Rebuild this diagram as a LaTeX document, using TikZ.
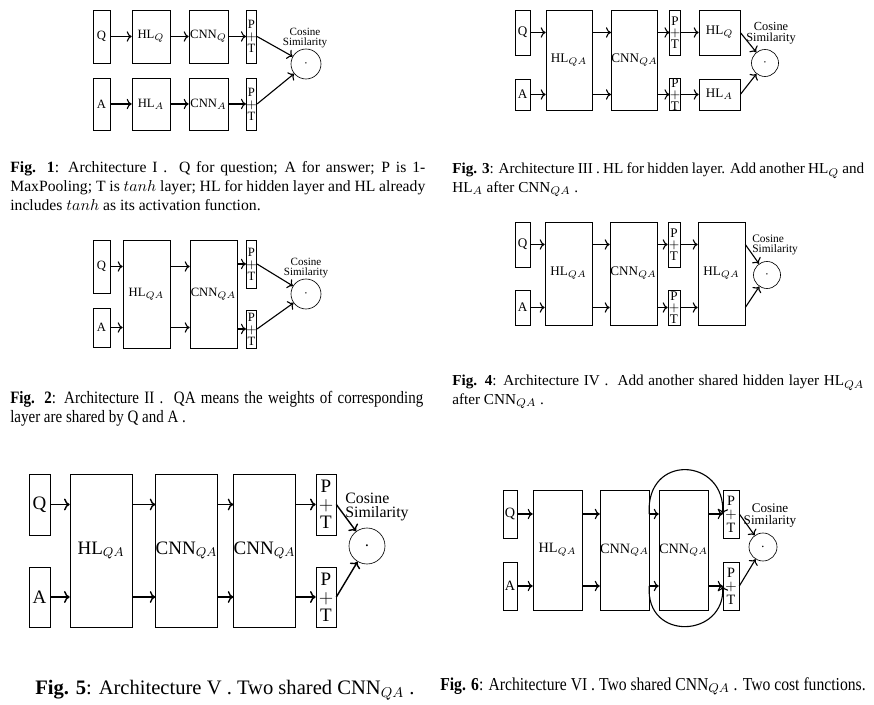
\documentclass[tikz,border=0pt]{standalone}
\usepackage{fontspec}
\setmainfont{Liberation Serif}
\newfontfamily\narrowserif[FakeStretch=0.86]{Liberation Serif}
\usetikzlibrary{arrows.meta}
\def\px{0.0222cm}

\begin{document}
\begin{tikzpicture}[
  x=\px, y=-\px,
  blk/.style 2 args={rectangle, draw, line width=0.4pt, inner sep=0pt, align=center, minimum width=#1*\px, minimum height=#2*\px},
  cosim/.style={circle, draw, line width=0.4pt, inner sep=0pt, minimum size=2*#1*\px},
  cslabel/.style={inner sep=0pt, align=center},
  arr/.style={->, line width=0.7pt},
  figcap/.style={anchor=base west, inner sep=0pt, align=justify}
]
\useasboundingbox (0,0) rectangle (874,705);

\begin{scope}[font=\fontsize{8}{7.6}\selectfont]
\node[blk={17}{53}] (q1) at (101.5,36.5) {Q};
\node[blk={38}{53}] (hlq1) at (151,36.5) {HL$_Q$};
\node[blk={39}{53}] (cnnq1) at (208.5,36.5) {CNN$_Q$};
\node[blk={9}{53}] (pta1) at (251.5,36.5) {P\\$+$\\T};
\node[blk={17}{52}] (a1) at (101.5,104) {A};
\node[blk={38}{52}] (hla1) at (151,104) {HL$_A$};
\node[blk={39}{52}] (cnna1) at (208.5,104) {CNN$_A$};
\node[blk={9}{52}] (ptb1) at (251.5,104) {P\\$+$\\T};
\node[cosim=15] (cs1) at (306,64) {$\cdot$};
\node[cslabel, font=\fontsize{7}{6.8}\selectfont] (lab1) at (305,38) {Cosine\\Similarity};
\draw[arr] (q1) -- (hlq1);
\draw[arr] (hlq1) -- (cnnq1);
\draw[arr] (cnnq1) -- (pta1);
\draw[arr] (a1) -- (hla1);
\draw[arr] (hla1) -- (cnna1);
\draw[arr] (cnna1) -- (ptb1);
\draw[arr] (pta1.east) -- (cs1);
\draw[arr] (ptb1.east) -- (cs1);
\end{scope}

\begin{scope}[font=\fontsize{8}{7.6}\selectfont]
\node[blk={17}{53}] (q2) at (101.5,266.5) {Q};
\node[blk={17}{39}] (a2) at (101.5,327.5) {A};
\node[blk={47}{108}] (hl2) at (146.5,294) {HL$_{QA}$};
\node[blk={47}{108}] (cnn2) at (213.5,294) {CNN$_{QA}$};
\node[blk={9}{48}] (pta2) at (251.5,264) {P\\$+$\\T};
\node[blk={9}{38}] (ptb2) at (251.5,329) {P\\$+$\\T};
\node[cosim=15] (cs2) at (306,294) {$\cdot$};
\node[cslabel, font=\fontsize{7}{6.8}\selectfont] (lab2) at (306,268) {Cosine\\Similarity};
\draw[arr] (q2) -- (q2 -| hl2.west);
\draw[arr] (a2) -- (a2 -| hl2.west);
\draw[arr] (hl2.east |- q2) -- (cnn2.west |- q2);
\draw[arr] (hl2.east |- a2) -- (cnn2.west |- a2);
\draw[arr] (cnn2.east |- pta2) -- (pta2);
\draw[arr] (cnn2.east |- ptb2) -- (ptb2);
\draw[arr] (pta2.east) -- (cs2);
\draw[arr] (ptb2.east) -- (cs2);
\end{scope}

\begin{scope}[font=\fontsize{8.3}{7.2}\selectfont]
\node[blk={15}{45}] (q3) at (522.5,32.5) {Q};
\node[blk={15}{31}] (a3) at (522.5,94.5) {A};
\node[blk={46}{100}] (hl3) at (569,60) {HL$_{QA}$};
\node[blk={45}{100}] (cnn3) at (634.5,60) {CNN$_{QA}$};
\node[blk={10}{45}] (pta3) at (675,32.5) {P\\$+$\\T};
\node[blk={10}{31}] (ptb3) at (675,94.5) {P\\$+$\\T};
\node[blk={41}{45}] (hlq3) at (719.5,32.5) {HL$_Q$};
\node[blk={41}{31}] (hla3) at (719.5,94.5) {HL$_A$};
\node[cosim=13.5] (cs3) at (765,63) {$\cdot$};
\node[cslabel, font=\fontsize{7.8}{7.2}\selectfont] (lab3) at (771,33) {Cosine\\Similarity};
\draw[arr] (q3) -- (q3 -| hl3.west);
\draw[arr] (a3) -- (a3 -| hl3.west);
\draw[arr] (hl3.east |- q3) -- (cnn3.west |- q3);
\draw[arr] (hl3.east |- a3) -- (cnn3.west |- a3);
\draw[arr] (cnn3.east |- pta3) -- (pta3);
\draw[arr] (cnn3.east |- ptb3) -- (ptb3);
\draw[arr] (pta3) -- (hlq3);
\draw[arr] (ptb3) -- (hla3);
\draw[arr] (hlq3.east) -- (cs3);
\draw[arr] (hla3.east) -- (cs3);
\end{scope}

\begin{scope}[font=\fontsize{8.3}{7.2}\selectfont]
\node[blk={15}{45}] (q4) at (522.5,244.5) {Q};
\node[blk={15}{35}] (a4) at (522.5,307.5) {A};
\node[blk={47}{103}] (hl4) at (568.5,273.5) {HL$_{QA}$};
\node[blk={47}{103}] (cnn4) at (633.5,273.5) {CNN$_{QA}$};
\node[blk={12}{45}] (pta4) at (674,244.5) {P\\$+$\\T};
\node[blk={12}{35}] (ptb4) at (674,307.5) {P\\$+$\\T};
\node[blk={47}{103}] (hl4b) at (721.5,273.5) {HL$_{QA}$};
\node[cosim=13.5] (cs4) at (767,275) {$\cdot$};
\node[cslabel, align=left, anchor=west, font=\fontsize{7.2}{6.8}\selectfont] (lab4) at (752,245) {Cosine\\Similarity};
\draw[arr] (q4) -- (q4 -| hl4.west);
\draw[arr] (a4) -- (a4 -| hl4.west);
\draw[arr] (hl4.east |- q4) -- (cnn4.west |- q4);
\draw[arr] (hl4.east |- a4) -- (cnn4.west |- a4);
\draw[arr] (cnn4.east |- pta4) -- (pta4);
\draw[arr] (cnn4.east |- ptb4) -- (ptb4);
\draw[arr] (pta4) -- (pta4 -| hl4b.west);
\draw[arr] (ptb4) -- (ptb4 -| hl4b.west);
\draw[arr] (hl4b.east |- pta4) -- (cs4);
\draw[arr] (hl4b.east |- ptb4) -- (cs4);
\end{scope}

\begin{scope}[font=\fontsize{12}{11.5}\selectfont, arr/.append style={line width=0.9pt}]
\node[blk={21}{61}] (q5) at (39.5,504.5) {Q};
\node[blk={21}{60}] (a5) at (39.5,597) {A};
\node[blk={62}{153}] (hl5) at (101,550.5) {HL$_{QA}$};
\node[blk={59}{153}] (cnn5a) at (186.5,550.5) {CNN$_{QA}$};
\node[blk={61}{153}] (cnn5b) at (264.5,550.5) {CNN$_{QA}$};
\node[blk={20}{61}] (pta5) at (326,504.5) {P\\$+$\\T};
\node[blk={20}{60}] (ptb5) at (326,597) {P\\$+$\\T};
\node[cosim=18] (cs5) at (367,546) {$\cdot$};
\node[cslabel, align=left, anchor=west, font=\fontsize{10}{8.8}\selectfont] (lab5) at (345,507) {Cosine\\Similarity};
\draw[arr] (q5) -- (q5 -| hl5.west);
\draw[arr] (a5) -- (a5 -| hl5.west);
\draw[arr] (hl5.east |- q5) -- (cnn5a.west |- q5);
\draw[arr] (hl5.east |- a5) -- (cnn5a.west |- a5);
\draw[arr] (cnn5a.east |- q5) -- (cnn5b.west |- q5);
\draw[arr] (cnn5a.east |- a5) -- (cnn5b.west |- a5);
\draw[arr] (cnn5b.east |- pta5) -- (pta5);
\draw[arr] (cnn5b.east |- ptb5) -- (ptb5);
\draw[arr] (pta5.east) -- (cs5);
\draw[arr] (ptb5.east) -- (cs5);
\end{scope}

\begin{scope}[font=\fontsize{9}{8.6}\selectfont]
\node[blk={14}{48}] (q6) at (510,514) {Q};
\node[blk={14}{48}] (a6) at (510,586) {A};
\node[blk={49}{120}] (hl6) at (557.5,550) {HL$_{QA}$};
\node[blk={47}{120}] (cnn6a) at (624.5,550) {CNN$_{QA}$};
\node[blk={47}{120}] (cnn6b) at (683.5,550) {CNN$_{QA}$};
\node[blk={16}{48}] (pta6) at (731,514) {P\\$+$\\T};
\node[blk={16}{48}] (ptb6) at (731,586) {P\\$+$\\T};
\node[cosim=14] (cs6) at (763,547) {$\cdot$};
\node[cslabel, font=\fontsize{8.3}{7.6}\selectfont] (lab6) at (770,516) {Cosine\\Similarity};
\draw[arr] (q6) -- (q6 -| hl6.west);
\draw[arr] (a6) -- (a6 -| hl6.west);
\draw[arr] (hl6.east |- q6) -- (cnn6a.west |- q6);
\draw[arr] (hl6.east |- a6) -- (cnn6a.west |- a6);
\draw[arr] (cnn6a.east |- q6) -- (cnn6b.west |- q6);
\draw[arr] (cnn6a.east |- a6) -- (cnn6b.west |- a6);
\draw[arr] (cnn6b.east |- pta6) -- (pta6);
\draw[arr] (cnn6b.east |- ptb6) -- (ptb6);
\draw[arr] (cnn6a.east |- q6) .. controls +(-4,-61) and +(3,-57) .. (pta6.west);
\draw[arr] (cnn6a.east |- a6) .. controls +(-4,56) and +(3,52) .. (ptb6.west);
\draw[arr] (pta6.east) -- (cs6);
\draw[arr] (ptb6.east) -- (cs6);
\end{scope}

\node[figcap, text width=415*\px, font=\fontsize{9.9}{12}\selectfont] (cap1) at (10,173)
  {\textbf{Fig. 1}: Architecture I .\ \ Q for question; A for answer; P is 1-\linebreak MaxPooling; T is $tanh$ layer; HL for hidden layer and HL already\linebreak includes $tanh$ as its activation function.};
\node[figcap, text width=413*\px, font=\narrowserif\fontsize{11}{11.4}\selectfont] (cap2) at (10,404)
  {\textbf{Fig. 2}: Architecture II .\ \ QA means the weights of corresponding\linebreak layer are shared by Q and A .};
\node[figcap, text width=412*\px, font=\fontsize{9.6}{11.4}\selectfont] (cap3) at (452,174)
  {\textbf{Fig. 3}: Architecture III . HL for hidden layer. Add another HL$_Q$ and\linebreak HL$_A$ after CNN$_{QA}$ .};
\node[figcap, text width=412*\px, font=\fontsize{9.6}{11.4}\selectfont] (cap4) at (452,386)
  {\textbf{Fig. 4}: Architecture IV .\ \ Add another shared hidden layer HL$_{QA}$\linebreak after CNN$_{QA}$ .};
\node[figcap, align=left, font=\fontsize{13}{15}\selectfont] (cap5) at (35,694)
  {\textbf{Fig. 5}: Architecture V . Two shared CNN$_{QA}$ .};
\node[figcap, align=left, font=\narrowserif\fontsize{11.5}{12}\selectfont] (cap6) at (440,690)
  {\textbf{Fig. 6}: Architecture VI . Two shared CNN$_{QA}$ . Two cost functions.};
\end{tikzpicture}
\end{document}
